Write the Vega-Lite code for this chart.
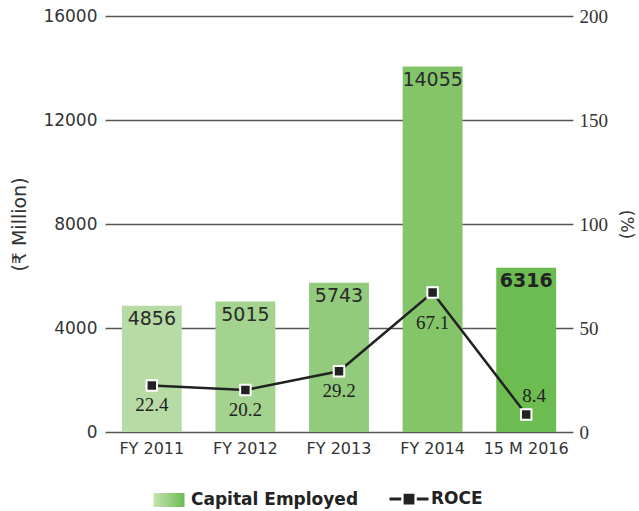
{
  "$schema": "https://vega.github.io/schema/vega-lite/v6.json",
  "width": 468,
  "height": 416,
  "autosize": {"type": "none"},
  "padding": {"left": 105, "top": 16, "right": 66, "bottom": 79},
  "background": "white",
  "config": {"view": {"stroke": null}},
  "data": {
    "values": [
      {"period": "FY 2011", "capital": 4856, "roce": 22.4},
      {"period": "FY 2012", "capital": 5015, "roce": 20.2},
      {"period": "FY 2013", "capital": 5743, "roce": 29.2},
      {"period": "FY 2014", "capital": 14055, "roce": 67.1},
      {"period": "15 M 2016", "capital": 6316, "roce": 8.4}
    ]
  },
  "encoding": {
    "x": {
      "field": "period",
      "type": "nominal",
      "sort": null,
      "scale": {"paddingInner": 0.36, "paddingOuter": 0.18},
      "axis": {
        "title": null,
        "labelAngle": 0,
        "domain": false,
        "ticks": false,
        "labelFont": "DejaVu Sans",
        "labelFontSize": 16,
        "labelColor": "#333333",
        "labelPadding": 8
      }
    }
  },
  "layer": [
    {
      "encoding": {
        "y": {
          "field": "capital",
          "type": "quantitative",
          "scale": {"domain": [0, 16000], "nice": false},
          "axis": {
            "orient": "left",
            "values": [0, 4000, 8000, 12000, 16000],
            "format": "d",
            "grid": true,
            "gridColor": "#555555",
            "gridWidth": 1.5,
            "domain": false,
            "ticks": false,
            "labelFont": "DejaVu Sans",
            "labelFontSize": 17,
            "labelColor": "#333333",
            "labelPadding": 8,
            "title": "(₹ Million)",
            "titleFont": "DejaVu Sans",
            "titleFontSize": 19,
            "titleFontWeight": "normal",
            "titleColor": "#333333",
            "titlePadding": 13
          }
        }
      },
      "layer": [
        {
          "mark": {"type": "bar"},
          "encoding": {
            "fill": {
              "field": "period",
              "type": "nominal",
              "sort": null,
              "scale": {
                "domain": ["FY 2011", "FY 2012", "FY 2013", "FY 2014", "15 M 2016"],
                "range": ["#b8dba5", "#a3d38f", "#92cb7c", "#84c56a", "#6cbc52"]
              },
              "legend": null
            }
          }
        },
        {
          "transform": [{"filter": "datum.period !== '15 M 2016'"}],
          "mark": {"type": "text", "baseline": "middle", "dy": 13, "font": "DejaVu Sans", "fontSize": 19, "color": "#2a2a2a"},
          "encoding": {"text": {"field": "capital", "type": "quantitative", "format": "d"}}
        },
        {
          "transform": [{"filter": "datum.period === '15 M 2016'"}],
          "mark": {"type": "text", "baseline": "middle", "dy": 13, "font": "DejaVu Sans", "fontSize": 19, "fontWeight": "bold", "color": "#222222"},
          "encoding": {"text": {"field": "capital", "type": "quantitative", "format": "d"}}
        }
      ]
    },
    {
      "encoding": {
        "y": {
          "field": "roce",
          "type": "quantitative",
          "scale": {"domain": [0, 200], "nice": false},
          "axis": {
            "orient": "right",
            "values": [0, 50, 100, 150, 200],
            "grid": false,
            "domain": false,
            "ticks": false,
            "labelFont": "Liberation Serif",
            "labelFontSize": 19,
            "labelColor": "#333333",
            "labelPadding": 6,
            "title": "(%)",
            "titleFont": "DejaVu Sans",
            "titleFontSize": 17,
            "titleFontWeight": "normal",
            "titleColor": "#333333",
            "titlePadding": 9
          }
        }
      },
      "layer": [
        {
          "mark": {"type": "line", "strokeWidth": 2.5},
          "encoding": {
            "stroke": {
              "datum": "ROCE",
              "scale": {"domain": ["Capital Employed", "ROCE"], "range": ["#222222", "#222222"]},
              "legend": {
                "title": null,
                "orient": "none",
                "legendX": 43,
                "legendY": 462,
                "direction": "horizontal",
                "padding": 0,
                "symbolSize": 1521,
                "symbolStrokeWidth": 3,
                "labelOffset": 1,
                "labelLimit": 400,
                "columnPadding": 24,
                "labelFont": "DejaVu Sans",
                "labelFontSize": 17,
                "labelFontWeight": "bold",
                "labelColor": "#222222",
                "encode": {
                  "symbols": {
                    "update": {
                      "shape": [
                        {"test": "datum.value === 'ROCE'", "value": "M-1,0H-0.4M0.4,0H1M-0.2,-0.2H0.2V0.2H-0.2Z"},
                        {"value": "M-0.795,-0.36H0.795V0.36H-0.795Z"}
                      ],
                      "fill": [
                        {"test": "datum.value === 'ROCE'", "value": "#222222"},
                        {"value": {"gradient": "linear", "x1": 0, "y1": 0, "x2": 1, "y2": 0, "stops": [{"offset": 0, "color": "#c4e3b2"}, {"offset": 1, "color": "#6cbc52"}]}}
                      ],
                      "stroke": [
                        {"test": "datum.value === 'ROCE'", "value": "#222222"},
                        {"value": "transparent"}
                      ],
                      "strokeOpacity": [
                        {"test": "datum.value === 'ROCE'", "value": 1},
                        {"value": 0}
                      ],
                      "strokeWidth": {"value": 3},
                      "opacity": {"value": 1}
                    }
                  }
                }
              }
            }
          }
        },
        {
          "mark": {"type": "point", "shape": "square", "filled": true, "fill": "#222222", "stroke": "white", "strokeWidth": 2, "size": 110, "opacity": 1}
        },
        {
          "transform": [{"filter": "datum.period !== 'FY 2014' && datum.period !== '15 M 2016'"}],
          "mark": {"type": "text", "baseline": "middle", "dy": 20, "font": "Liberation Serif", "fontSize": 19, "color": "#222222"},
          "encoding": {"text": {"field": "roce", "type": "quantitative", "format": ".1f"}}
        },
        {
          "transform": [{"filter": "datum.period === 'FY 2014'"}],
          "mark": {"type": "text", "baseline": "middle", "dy": 31, "font": "Liberation Serif", "fontSize": 19, "color": "#222222"},
          "encoding": {"text": {"field": "roce", "type": "quantitative", "format": ".1f"}}
        },
        {
          "transform": [{"filter": "datum.period === '15 M 2016'"}],
          "mark": {"type": "text", "baseline": "middle", "dy": -19, "dx": 8, "font": "Liberation Serif", "fontSize": 19, "color": "#222222"},
          "encoding": {"text": {"field": "roce", "type": "quantitative", "format": ".1f"}}
        }
      ]
    }
  ],
  "resolve": {"scale": {"y": "independent"}}
}
